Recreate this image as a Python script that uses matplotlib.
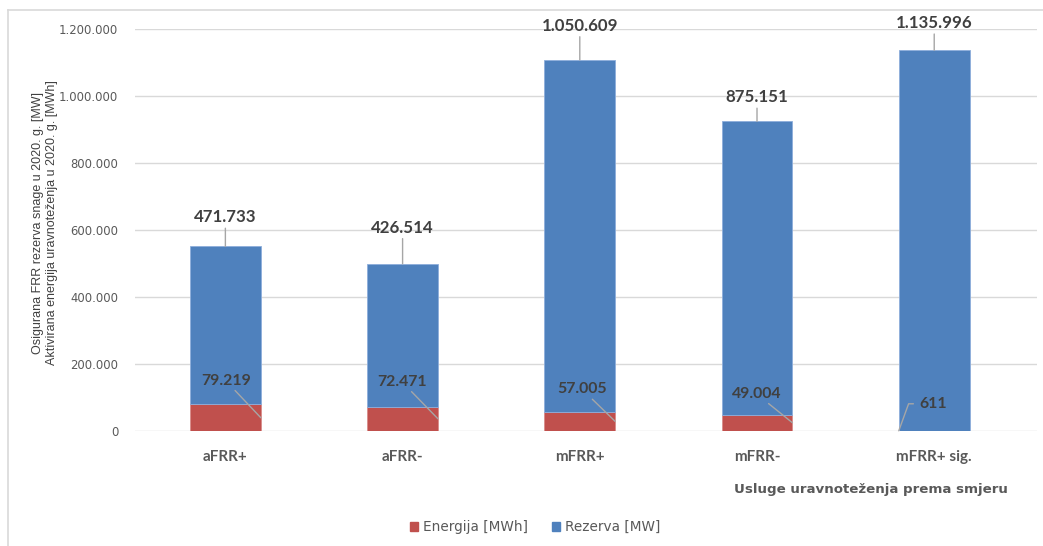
import matplotlib
matplotlib.use("Agg")
import matplotlib.pyplot as plt
from matplotlib.patches import Patch
from matplotlib.lines import Line2D
from matplotlib.ticker import FuncFormatter, MultipleLocator

# Balancing services by direction, 2020
categories = ["aFRR+", "aFRR-", "mFRR+", "mFRR-", "mFRR+ sig."]
energija = [79219, 72471, 57005, 49004, 611]          # activated energy [MWh]
rezerva = [471733, 426514, 1050609, 875151, 1135996]  # contracted reserve [MW]

series_names = ["Energija [MWh]", "Rezerva [MW]"]
y_title = ("Osigurana FRR rezerva snage u 2020. g. [MW]\n"
           "Aktivirana energija uravnoteženja u 2020. g. [MWh]")
x_title = "Usluge uravnoteženja prema smjeru"

RED = "#C0504D"
BLUE = "#4F81BD"
GRID = "#D9D9D9"
LEADER = "#A6A6A6"
LABEL = "#404040"
AXTXT = "#595959"
LABEL_FONT = "Lato"

W, H = 1043, 546
fig = plt.figure(figsize=(W / 100, H / 100), dpi=100)
ax = fig.add_axes([135 / W, 1 - 431 / H, (1037 - 135) / W, (431 - 29) / H])

x = list(range(len(categories)))
bar_w = 0.40
ax.bar(x, energija, bar_w, color=RED, edgecolor="#D98C8A", linewidth=0.6, zorder=3)
ax.bar(x, rezerva, bar_w, bottom=energija, color=BLUE, edgecolor="#8EAEDB",
       linewidth=0.6, zorder=3)

ax.set_xlim(-0.51, 4.58)
ax.set_ylim(0, 1200000)
ax.yaxis.set_major_locator(MultipleLocator(200000))
ax.yaxis.set_major_formatter(FuncFormatter(lambda v, p: f"{v:,.0f}".replace(",", ".")))
ax.grid(axis="y", color=GRID, linewidth=1.0, zorder=0)
ax.set_axisbelow(True)
for s in ax.spines.values():
    s.set_visible(False)
ax.tick_params(axis="y", length=0, pad=12, labelsize=8.4, labelcolor=AXTXT)
ax.tick_params(axis="x", length=0, pad=14)
ax.set_xticks(x)
ax.set_xticklabels(categories, fontfamily=LABEL_FONT, fontweight="bold",
                   fontsize=11, color=AXTXT)

fmt = lambda v: f"{v:,.0f}".replace(",", ".")

# reserve labels above each stack, with a short vertical leader
top_offsets = [29, 36, 34, 24, 27]
for i, (e, r) in enumerate(zip(energija, rezerva)):
    ax.annotate(fmt(r), xy=(i, e + r), xytext=(0, top_offsets[i]),
                textcoords="offset pixels", ha="center", va="center",
                fontfamily=LABEL_FONT, fontweight="bold", fontsize=12.2,
                color=LABEL, annotation_clip=False, zorder=5,
                arrowprops=dict(arrowstyle="-", color=LEADER, lw=1.0,
                                shrinkA=0, shrinkB=0))

# energy labels placed inside the blue area, leader to the red segment
energy_offsets = [(-35, 37), (-36, 37), (-33, 32), (-36, 29)]
for i, e in enumerate(energija[:4]):
    ax.annotate(fmt(e), xy=(i + bar_w / 2, e / 2), xytext=energy_offsets[i],
                textcoords="offset pixels", ha="center", va="center",
                fontfamily=LABEL_FONT, fontweight="bold", fontsize=11.4,
                color=LABEL, zorder=5,
                arrowprops=dict(arrowstyle="-", color=LEADER, lw=1.0,
                                shrinkA=0, shrinkB=0))
i = 4
ax.annotate(fmt(energija[i]), xy=(i - bar_w / 2, energija[i]), xytext=(34, 27),
            textcoords="offset pixels", ha="center", va="center",
            fontfamily=LABEL_FONT, fontweight="bold", fontsize=11.4,
            color=LABEL, zorder=5,
            arrowprops=dict(arrowstyle="-", color=LEADER, lw=1.0,
                            shrinkA=2, shrinkB=0, relpos=(0, 0.5),
                            connectionstyle="angle,angleA=0,angleB=70,rad=0"))

# axis titles
fig.text(45 / W, 1 - 223 / H, y_title, rotation=90, ha="center", va="center",
         fontfamily="Liberation Sans", fontsize=9, color=LABEL, linespacing=1.25)
fig.text(871 / W, 1 - 490 / H, x_title, ha="center", va="center",
         fontfamily="DejaVu Sans", fontweight="bold", fontsize=9.6, color=AXTXT)

# legend
handles = [Patch(facecolor=RED, edgecolor=RED), Patch(facecolor=BLUE, edgecolor=BLUE)]
leg = fig.legend(handles, series_names, loc="center", bbox_to_anchor=(535 / W, 1 - 527 / H),
                 ncol=2, frameon=False, handlelength=0.6, handleheight=0.6,
                 handletextpad=0.35, columnspacing=1.8, borderaxespad=0,
                 prop={"family": "DejaVu Sans", "size": 9.8})
for t in leg.get_texts():
    t.set_color(AXTXT)

# outer chart frame (top and left edges)
fig.add_artist(Line2D([8 / W, 1.0], [1 - 10 / H] * 2, color=GRID, lw=1.2,
                      transform=fig.transFigure))
fig.add_artist(Line2D([8 / W] * 2, [0.0, 1 - 10 / H], color=GRID, lw=1.2,
                      transform=fig.transFigure))

fig.savefig("out.png", dpi=100, facecolor="white")
